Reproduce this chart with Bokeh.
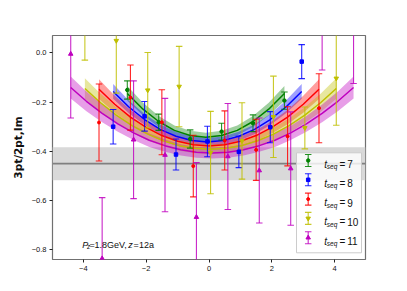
import numpy as np
from bokeh.plotting import figure
from bokeh.models import Range1d, FixedTicker, CustomJSTickFormatter, BoxAnnotation, Span, Label
from bokeh.embed import file_html
from bokeh.resources import INLINE

# ---------------- data ----------------
tseq = [7, 8, 9, 10, 11]
colors = ["#008000", "#0000ff", "#ff0000", "#bfbf00", "#bf00bf"]
markers = ["circle", "square", "circle", "inverted_triangle", "triangle"]
marker_sizes = [3.5, 3.5, 3.0, 4.5, 4.5]
x_shift = [-0.1, -0.05, 0.0, 0.05, 0.1]

# ratio points at t - tseq/2 = -(tseq/2-1) ... (tseq/2-1)
ratio_t7 = [-0.151, -0.282, -0.350, -0.320, -0.286, -0.194]
err_t7 = [0.037, 0.033, 0.037, 0.034, 0.034, 0.035]
ratio_t8 = [-0.300, -0.258, -0.413, -0.360, -0.402, -0.302, -0.036]
err_t8 = [0.070, 0.060, 0.063, 0.062, 0.064, 0.063, 0.069]
ratio_t9 = [-0.283, -0.182, -0.282, -0.460, -0.356, -0.394, -0.339, -0.225]
err_t9 = [0.156, 0.132, 0.132, 0.125, 0.120, 0.124, 0.120, 0.140]
ratio_t10 = [0.170, 0.049, -0.152, -0.137, -0.405, -0.358, -0.260, -0.305, -0.104]
err_t10 = [0.200, 0.213, 0.153, 0.163, 0.167, 0.155, 0.165, 0.085, 0.190]
ratio_t11 = [-0.005, -0.835, -0.353, -0.415, -0.667, -0.421, -0.478, -0.470, 0.150, 0.130]
err_t11 = [0.260, 0.247, 0.239, 0.230, 0.221, 0.215, 0.213, 0.230, 0.220, 0.255]

# fit curves, sampled every 0.5 in t - tseq/2, and band half-widths
fit_t7 = [-0.165, -0.229, -0.279, -0.315, -0.336, -0.343, -0.336, -0.315, -0.279, -0.229, -0.165]
fitw_t7 = [0.030, 0.026, 0.022, 0.020, 0.019, 0.018, 0.019, 0.020, 0.022, 0.026, 0.030]
fit_t8 = [-0.157, -0.220, -0.271, -0.311, -0.339, -0.356, -0.362, -0.356, -0.339, -0.311, -0.271, -0.220, -0.157]
fitw_t8 = [0.030, 0.026, 0.022, 0.020, 0.018, 0.016, 0.016, 0.016, 0.018, 0.020, 0.022, 0.026, 0.030]
fit_t9 = [-0.148, -0.209, -0.261, -0.303, -0.336, -0.359, -0.373, -0.378, -0.373, -0.359, -0.336, -0.303,
          -0.261, -0.209, -0.148]
fitw_t9 = [0.040, 0.034, 0.029, 0.025, 0.022, 0.020, 0.018, 0.018, 0.018, 0.020, 0.022, 0.025, 0.029, 0.034, 0.040]
fit_t10 = [-0.145, -0.203, -0.253, -0.296, -0.330, -0.357, -0.377, -0.388, -0.392, -0.388, -0.377, -0.357,
           -0.330, -0.296, -0.253, -0.203, -0.145]
fitw_t10 = [0.042, 0.037, 0.032, 0.029, 0.026, 0.023, 0.021, 0.020, 0.020, 0.020, 0.021, 0.023, 0.026,
            0.029, 0.032, 0.037, 0.042]
fit_t11 = [-0.141, -0.197, -0.246, -0.289, -0.325, -0.355, -0.377, -0.394, -0.404, -0.407, -0.404, -0.394,
           -0.377, -0.355, -0.325, -0.289, -0.246, -0.197, -0.141]
fitw_t11 = [0.045, 0.040, 0.036, 0.032, 0.029, 0.027, 0.025, 0.023, 0.022, 0.022, 0.022, 0.023, 0.025,
            0.027, 0.029, 0.032, 0.036, 0.040, 0.045]

band_center = -0.45
band_err = 0.067

x_ticks = [-4, -2, 0, 2, 4]
y_ticks = [0.0, -0.2, -0.4, -0.6, -0.8]

ratios = [ratio_t7, ratio_t8, ratio_t9, ratio_t10, ratio_t11]
errs = [err_t7, err_t8, err_t9, err_t10, err_t11]
fits = [fit_t7, fit_t8, fit_t9, fit_t10, fit_t11]
fitws = [fitw_t7, fitw_t8, fitw_t9, fitw_t10, fitw_t11]

# ---------------- layout ----------------
XMIN, XMAX = -4.98, 4.98
YMIN, YMAX = -0.839, 0.070
FL, FT, FW, FH = 52.0, 35.0, 313.0, 224.0   # frame position on the canvas (px)

def px2x(px):
    return XMIN + (px - FL) / FW * (XMAX - XMIN)

def px2y(py):
    return YMAX - (py - FT) / FH * (YMAX - YMIN)

p = figure(width=407, height=291, x_range=Range1d(XMIN, XMAX), y_range=Range1d(YMIN, YMAX),
           output_backend="svg", toolbar_location=None,
           min_border_left=52, min_border_right=42, min_border_top=35, min_border_bottom=32)
p.xgrid.visible = False
p.ygrid.visible = False
p.outline_line_color = "#707070"
p.outline_line_width = 1.2
p.axis.axis_line_color = None
p.axis.minor_tick_line_color = None
p.axis.major_tick_in = 0
p.axis.major_tick_out = 3
p.axis.major_tick_line_color = "#222222"
p.axis.major_label_standoff = 3
p.axis.major_label_text_font = "Liberation Sans"
p.axis.major_label_text_font_size = "7.5px"
p.axis.major_label_text_color = "#111111"
p.xaxis.ticker = FixedTicker(ticks=x_ticks)
p.yaxis.ticker = FixedTicker(ticks=y_ticks)
p.xaxis.formatter = CustomJSTickFormatter(code="return tick.toFixed(0).replace('-', '\u2212');")
p.yaxis.formatter = CustomJSTickFormatter(code="return tick.toFixed(1).replace('-', '\u2212');")
p.yaxis.axis_label = "3pt/2pt,Im"
p.yaxis.axis_label_text_font = "DejaVu Sans"
p.yaxis.axis_label_text_font_style = "bold"
p.yaxis.axis_label_text_font_size = "10.5px"
p.yaxis.axis_label_text_color = "#111111"
p.yaxis.axis_label_standoff = 5

# grey band
p.add_layout(BoxAnnotation(bottom=band_center - band_err, top=band_center + band_err,
                           fill_color="#d9d9d9", fill_alpha=1.0, line_color=None, level="underlay"))
p.add_layout(Span(location=band_center, dimension="width", line_color="#808080", line_width=1.8,
                  level="underlay"))

# fit bands and lines
for i, ts in enumerate(tseq):
    xf = np.arange(-(ts - 2), ts - 1) * 0.5 + x_shift[i]
    f = np.array(fits[i])
    w = np.array(fitws[i])
    p.varea(x=xf, y1=f - w, y2=f + w, fill_color=colors[i], fill_alpha=0.38)
for i, ts in enumerate(tseq):
    xf = np.arange(-(ts - 2), ts - 1) * 0.5 + x_shift[i]
    p.line(xf, fits[i], line_color=colors[i], line_width=1.5)

# error bars
for i, ts in enumerate(tseq):
    xs = np.arange(1, ts) - ts / 2 + x_shift[i]
    r = np.array(ratios[i])
    e = np.array(errs[i])
    p.segment(x0=xs, y0=r - e, x1=xs, y1=r + e, line_color=colors[i], line_width=1.1, line_alpha=0.85)
    p.scatter(x=np.concatenate([xs, xs]), y=np.concatenate([r - e, r + e]), marker="dash", size=6.5,
              line_color=colors[i], line_width=1.1, line_alpha=0.85)
    p.scatter(x=xs, y=r, marker=markers[i], size=marker_sizes[i], color=colors[i])

# legend frame (glyph, so that it sits above the data but below the icons)
p.quad(left=[px2x(296)], right=[px2x(361)], top=[px2y(152.3)], bottom=[px2y(252.3)],
       fill_color="white", fill_alpha=0.8, line_color="#cccccc", line_width=1)

# text annotation
def lab(px, py, text, size="9px", style="normal", font="Liberation Sans"):
    p.add_layout(Label(x=px2x(px), y=px2y(py), text=text, text_font=font, text_font_size=size,
                       text_font_style=style, text_align="left", text_baseline="alphabetic",
                       text_color="#111111"))

lab(81.7, 244, "P", style="italic")
lab(86.6, 246, "z", size="6.5px", style="italic")
lab(89.0, 244, "=")
lab(94.0, 244, "1.8GeV,")
lab(127.7, 244, "z", style="italic")
lab(133.0, 244, "=")
lab(138.5, 244, "12a")

# x-axis label
lab(189.3, 284, "t", size="10px", style="italic")
lab(194.5, 284, "\u2212", size="10px")
lab(203.0, 284, "t", size="10px", style="italic")
lab(206.5, 287, "seq", size="7px", style="italic")
lab(217.0, 284, "/2", size="10px")

# legend entries
row_y = [160.0, 179.3, 198.6, 217.9, 237.2]
icon_x = px2x(307.7)
half = 6.0 * (YMAX - YMIN) / FH
for i, ts in enumerate(tseq):
    yc = px2y(row_y[i])
    p.segment(x0=[icon_x], y0=[yc - half], x1=[icon_x], y1=[yc + half], line_color=colors[i],
              line_width=1.1, line_alpha=0.85)
    p.scatter(x=[icon_x, icon_x], y=[yc - half, yc + half], marker="dash", size=6.5,
              line_color=colors[i], line_width=1.1, line_alpha=0.85)
    p.scatter(x=[icon_x], y=[yc], marker=markers[i], size=marker_sizes[i], color=colors[i])
    lab(323.7, row_y[i] + 3.5, "t", size="10px", style="italic")
    lab(326.3, row_y[i] + 6.0, "seq", size="6.5px", style="italic")
    lab(339.0, row_y[i] + 3.5, "=", size="10px")
    lab(346.8, row_y[i] + 3.5, str(ts), size="10px")

open("out.html", "w").write(file_html(p, INLINE))
